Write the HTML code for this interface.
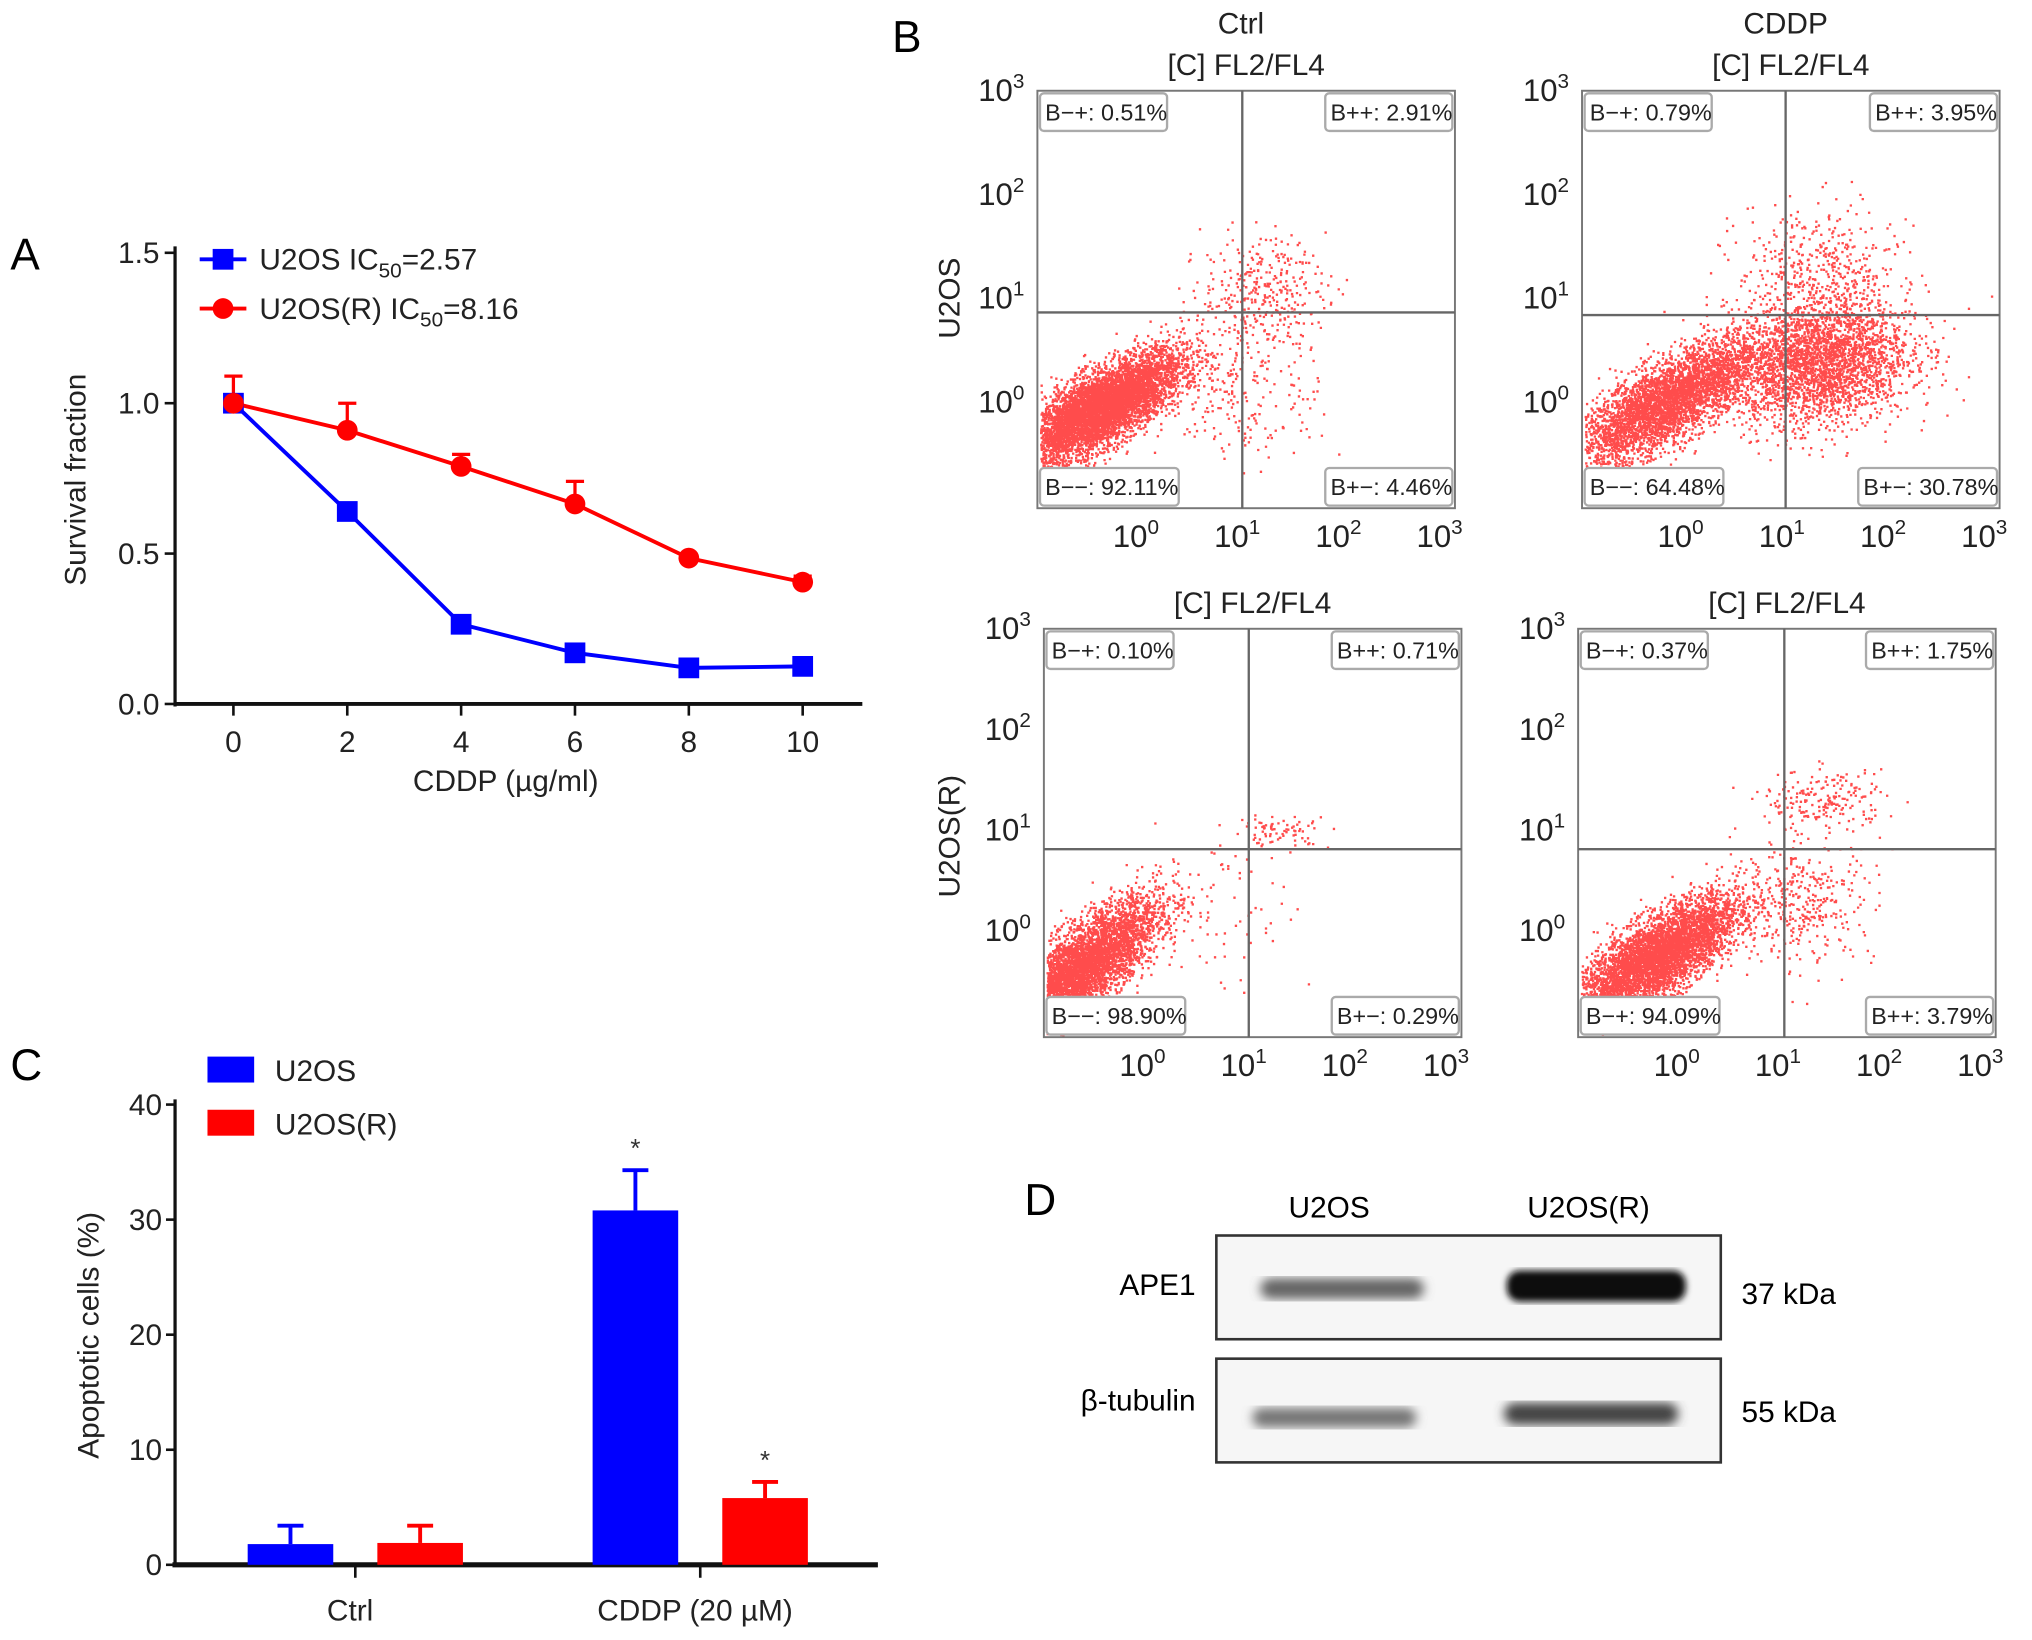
<!DOCTYPE html>
<html><head><meta charset="utf-8"><style>
html,body{margin:0;padding:0;background:#fff;}
svg{display:block;font-family:"Liberation Sans",sans-serif;}
</style></head><body>
<svg id="fig" width="2032" height="1640" viewBox="0 0 1567 1265" preserveAspectRatio="none" xmlns="http://www.w3.org/2000/svg">
<defs>
<filter id="blur3"><feGaussianBlur stdDeviation="4"/></filter>
<filter id="blur2"><feGaussianBlur stdDeviation="2.5"/></filter>
</defs>
<g id="panelA"></g>
<g id="panelB"></g>
<g id="panelC"></g>
<g id="panelD">
<text x="790" y="937" font-size="34">D</text>
<text x="1025" y="939" font-size="23" text-anchor="middle">U2OS</text>
<text x="1225" y="939" font-size="23" text-anchor="middle">U2OS(R)</text>
<rect x="938" y="953" width="389" height="80" fill="#f6f6f6" stroke="#333" stroke-width="2"/>
<rect x="938" y="1048" width="389" height="80" fill="#f6f6f6" stroke="#333" stroke-width="2"/>
<rect x="972" y="986" width="126" height="16" rx="8" fill="#666" filter="url(#blur3)"/>
<rect x="1162" y="980" width="138" height="24" rx="10" fill="#0a0a0a" filter="url(#blur2)"/>
<rect x="966" y="1086" width="126" height="15" rx="7" fill="#777" filter="url(#blur3)"/>
<rect x="1160" y="1082" width="134" height="17" rx="8" fill="#444" filter="url(#blur3)"/>
<text x="922" y="999" font-size="23" text-anchor="end">APE1</text>
<text x="922" y="1088" font-size="23" text-anchor="end">β-tubulin</text>
<text x="1343" y="1006" font-size="23">37 kDa</text>
<text x="1343" y="1097" font-size="23">55 kDa</text>
</g>
</svg>
<script>
// ---- Panel A data ----
const doses = [0, 2, 4, 6, 8, 10];
const u2osSurvival = [1.0, 0.64, 0.265, 0.17, 0.12, 0.125];
const u2osRSurvival = [1.0, 0.91, 0.79, 0.665, 0.485, 0.405];
const u2osRError = [0.09, 0.09, 0.04, 0.075, 0.0, 0.02];
const survivalTicks = [0.0, 0.5, 1.0, 1.5];
const survivalTickLabels = ["0.0", "0.5", "1.0", "1.5"];
// ---- Panel C data ----
const groups = ["Ctrl", "CDDP (20 µM)"];
const apopU2OS = [1.8, 30.8];
const apopU2OSErr = [1.6, 3.5];
const apopU2OSR = [1.9, 5.8];
const apopU2OSRErr = [1.5, 1.4];
const apopTicks = [0, 10, 20, 30, 40];
// ---- Panel B data ----
const plotTitles = [["Ctrl","[C] FL2/FL4"],["CDDP","[C] FL2/FL4"],["","[C] FL2/FL4"],["","[C] FL2/FL4"]];
const quadLabels = [
 ["B−+: 0.51%","B++: 2.91%","B−−: 92.11%","B+−: 4.46%"],
 ["B−+: 0.79%","B++: 3.95%","B−−: 64.48%","B+−: 30.78%"],
 ["B−+: 0.10%","B++: 0.71%","B−−: 98.90%","B+−: 0.29%"],
 ["B−+: 0.37%","B++: 1.75%","B−+: 94.09%","B++: 3.79%"]];
// clusters per plot: [log10 x center, log10 y center, sdx, sdy, count, slope]
const clusters = [
 [[-0.4,-0.05,0.4,0.18,6000,0.5],[1.2,1.1,0.3,0.25,300,0],[1.0,0.2,0.4,0.4,250,0]],
 [[-0.2,0.0,0.45,0.2,4000,0.5],[1.3,0.4,0.45,0.3,3000,0.1],[1.3,1.3,0.4,0.3,400,0]],
 [[-0.7,-0.4,0.4,0.22,6000,0.7],[1.3,1.0,0.25,0.08,80,0],[0.8,0.2,0.4,0.4,60,0]],
 [[-0.25,-0.25,0.4,0.2,5000,0.55],[1.2,0.3,0.35,0.3,350,0],[1.4,1.3,0.3,0.15,200,0]]];
const NS="http://www.w3.org/2000/svg";
function mk(parent,tag,attrs,text){const e=document.createElementNS(NS,tag);for(const k in attrs)e.setAttribute(k,attrs[k]);if(text!==undefined)e.textContent=text;parent.appendChild(e);return e;}

// ===== Panel A =====
(function(){
 const g=document.getElementById('panelA');
 const xA=d=>180+(d/10)*439, yA=v=>543-v*232;
 let t=mk(g,'text',{x:8,y:208,'font-size':34});t.textContent='A';
 
 
 let ax=mk(g,'line',{x1:135,y1:190,x2:135,y2:545,stroke:'#111','stroke-width':2.5});
 
 
 ax=mk(g,'line',{x1:134,y1:543,x2:665,y2:543,stroke:'#111','stroke-width':3});
 
 
 survivalTicks.forEach((v,i)=>{
  mk(g,'line',{x1:127,y1:yA(v),x2:135,y2:yA(v),stroke:'#111','stroke-width':2});
  const l=mk(g,'text',{x:123,y:yA(v)+8,'font-size':23,'text-anchor':'end',fill:'#222'},survivalTickLabels[i]);
  
  
 });
 doses.forEach(d=>{
  mk(g,'line',{x1:xA(d),y1:543,x2:xA(d),y2:552,stroke:'#111','stroke-width':2});
  const l=mk(g,'text',{x:xA(d),y:580,'font-size':23,'text-anchor':'middle',fill:'#222'},String(d));
  
  
 });
 let tt=mk(g,'text',{x:390,y:610,'font-size':23,'text-anchor':'middle',fill:'#222'},'CDDP (µg/ml)');
 
 
 tt=mk(g,'text',{x:0,y:0,'font-size':23,'text-anchor':'middle',fill:'#222',transform:'translate(66,370) rotate(-90)'},'Survival fraction');
 
 
 u2osRSurvival.forEach((v,i)=>{
  if(u2osRError[i]>0){
   mk(g,'line',{x1:xA(doses[i]),y1:yA(v),x2:xA(doses[i]),y2:yA(v+u2osRError[i]),stroke:'#f00','stroke-width':2.5});
   mk(g,'line',{x1:xA(doses[i])-7,y1:yA(v+u2osRError[i]),x2:xA(doses[i])+7,y2:yA(v+u2osRError[i]),stroke:'#f00','stroke-width':2.5});
  }
 });
 let p=mk(g,'polyline',{points:u2osSurvival.map((v,i)=>xA(doses[i])+','+yA(v)).join(' '),fill:'none',stroke:'#00f','stroke-width':3});
 
 
 p=mk(g,'polyline',{points:u2osRSurvival.map((v,i)=>xA(doses[i])+','+yA(v)).join(' '),fill:'none',stroke:'#f00','stroke-width':3});
 
 
 u2osSurvival.forEach((v,i)=>{
  const m=mk(g,'rect',{x:xA(doses[i])-8,y:yA(v)-8,width:16,height:16,fill:'#00f'});
  
  
 });
 u2osRSurvival.forEach((v,i)=>{
  const m=mk(g,'circle',{cx:xA(doses[i]),cy:yA(v),r:8,fill:'#f00'});
  
  
 });
 mk(g,'line',{x1:154,y1:200,x2:190,y2:200,stroke:'#00f','stroke-width':3});
 mk(g,'rect',{x:164,y:192,width:16,height:16,fill:'#00f'});
 let le=mk(g,'text',{x:200,y:208,'font-size':23,fill:'#222'});
 le.innerHTML='U2OS IC<tspan font-size="16" dy="6">50</tspan><tspan dy="-6">=2.57</tspan>';
 
 
 mk(g,'line',{x1:154,y1:238,x2:190,y2:238,stroke:'#f00','stroke-width':3});
 mk(g,'circle',{cx:172,cy:238,r:8,fill:'#f00'});
 le=mk(g,'text',{x:200,y:246,'font-size':23,fill:'#222'});
 le.innerHTML='U2OS(R) IC<tspan font-size="16" dy="6">50</tspan><tspan dy="-6">=8.16</tspan>';
 
 
})();

// ===== Panel C =====
(function(){
 const g=document.getElementById('panelC');
 const yC=v=>1207-v*8.875;
 const groupCenter=[274,540];
 let t=mk(g,'text',{x:8,y:833,'font-size':34},'C');
 
 
 let ax=mk(g,'line',{x1:135,y1:848,x2:135,y2:1208,stroke:'#111','stroke-width':2.5});
 
 
 ax=mk(g,'line',{x1:133,y1:1207,x2:677,y2:1207,stroke:'#111','stroke-width':4});
 
 
 apopTicks.forEach(v=>{
  mk(g,'line',{x1:128,y1:yC(v),x2:135,y2:yC(v),stroke:'#111','stroke-width':2});
  const l=mk(g,'text',{x:125,y:yC(v)+8,'font-size':23,'text-anchor':'end',fill:'#222'},String(v));
  
  
 });
 let tt=mk(g,'text',{x:0,y:0,'font-size':23,'text-anchor':'middle',fill:'#222',transform:'translate(76,1030) rotate(-90)'},'Apoptotic cells (%)');
 
 
 function bar(cx,v,e,color,name,star){
  const w=66;
  mk(g,'line',{x1:cx,y1:yC(v),x2:cx,y2:yC(v+e),stroke:color,'stroke-width':3});
  mk(g,'line',{x1:cx-10,y1:yC(v+e),x2:cx+10,y2:yC(v+e),stroke:color,'stroke-width':3});
  const b=mk(g,'rect',{x:cx-w/2,y:yC(v),width:w,height:yC(0)-yC(v),fill:color});
  
  
  if(star){const s=mk(g,'text',{x:cx,y:yC(v+e)-10,'font-size':20,'text-anchor':'middle',fill:'#333'},'*');
   
   }
 }
 groups.forEach((gname,i)=>{
  bar(groupCenter[i]-50,apopU2OS[i],apopU2OSErr[i],'#00f','bar-u2os-'+i,i===1);
  bar(groupCenter[i]+50,apopU2OSR[i],apopU2OSRErr[i],'#f00','bar-u2os-r-'+i,i===1);
  mk(g,'line',{x1:groupCenter[i],y1:1207,x2:groupCenter[i],y2:1217,stroke:'#111','stroke-width':2});
  const l=mk(g,'text',{x:groupCenter[i]-4,y:1250,'font-size':23,'text-anchor':'middle',fill:'#222'},gname);
  
  
 });
 mk(g,'rect',{x:160,y:815,width:36,height:20,fill:'#00f'});
 let le=mk(g,'text',{x:212,y:834,'font-size':23,fill:'#222'},'U2OS');
 
 
 mk(g,'rect',{x:160,y:856,width:36,height:20,fill:'#f00'});
 le=mk(g,'text',{x:212,y:875,'font-size':23,fill:'#222'},'U2OS(R)');
 
 
})();

// ===== Panel B =====
(function(){
 const g=document.getElementById('panelB');
 let t=mk(g,'text',{x:688,y:40,'font-size':34},'B');
 
 
 const frames=[[800,70,1122,392,958,241],[1220,70,1542,392,1377,243],[805,485,1127,800,963,655],[1217,485,1539,800,1376,655]];
 let seed=12345;const rnd=()=>{seed=(seed*1103515245+12345)%2147483648;return seed/2147483648;};
 const gauss=()=>{let u=rnd()||1e-6,v=rnd();return Math.sqrt(-2*Math.log(u))*Math.cos(2*Math.PI*v);};
 frames.forEach((f,pi)=>{
  const [x0,y0,x1,y1,qx,qy]=f;
  const pg=mk(g,'g',{});
  
  
  const dec=(x1-x0-80)/3.1;
  const sx=l=>x0+80+l*dec, sy=l=>y1-82-l*(y1-y0-82)/3;
  let d='';
  clusters[pi].forEach(c=>{
   const [cx,cy,sdx,sdy,n,slope]=c;
   for(let k=0;k<n;k++){
    const a=gauss()*sdx,b=gauss()*sdy;
    const X=sx(cx+a),Y=sy(cy+a*slope+b);
    if(X<x0+2||X>x1-2||Y<y0+2||Y>y1-2)continue;
    d+='M'+X.toFixed(1)+' '+Y.toFixed(1)+'h1.8v1.8h-1.8z';
   }
  });
  const dots=mk(pg,'path',{d:d,fill:'#f00','fill-opacity':0.7});
  
  
  mk(pg,'rect',{x:x0,y:y0,width:x1-x0,height:y1-y0,fill:'none',stroke:'#777','stroke-width':1.5});
  mk(pg,'line',{x1:qx,y1:y0,x2:qx,y2:y1,stroke:'#666','stroke-width':1.8});
  mk(pg,'line',{x1:x0,y1:qy,x2:x1,y2:qy,stroke:'#666','stroke-width':1.8});
  const ql=quadLabels[pi];
  const pos=[[x0+2,y0+2,'start'],[x1-2,y0+2,'end'],[x0+2,y1-31,'start'],[x1-2,y1-31,'end']];
  pos.forEach((p,qi)=>{
   const w=ql[qi].length*9+8;
   const bx=p[2]==='start'?p[0]:p[0]-w;
   mk(pg,'rect',{x:bx,y:p[1],width:w,height:29,rx:3,fill:'#fff',stroke:'#aaa','stroke-width':1.8});
   const l=mk(pg,'text',{x:bx+4,y:p[1]+21,'font-size':18,fill:'#222'},ql[qi]);
   
   
  });
  for(let k=0;k<=3;k++){
   const l=mk(pg,'text',{x:sx(k)-4,y:y1+30,'font-size':24,'text-anchor':'middle',fill:'#222'});
   l.innerHTML='10<tspan font-size="16" dy="-10">'+k+'</tspan>';
   
   
   const m=mk(pg,'text',{x:x0-10,y:sy(k)+8,'font-size':24,'text-anchor':'end',fill:'#222'});
   m.innerHTML='10<tspan font-size="16" dy="-10">'+k+'</tspan>';
   
   
  }
  const cxm=(x0+x1)/2;
  if(plotTitles[pi][0]){const a=mk(pg,'text',{x:cxm-4,y:y0-44,'font-size':23,'text-anchor':'middle',fill:'#222'},plotTitles[pi][0]);
   
   }
  const b=mk(pg,'text',{x:cxm,y:y0-12,'font-size':23,'text-anchor':'middle',fill:'#222'},plotTitles[pi][1]);
  
  
 });
 let r=mk(g,'text',{x:0,y:0,'font-size':23,'text-anchor':'middle',fill:'#222',transform:'translate(740,230) rotate(-90)'},'U2OS');
 
 
 r=mk(g,'text',{x:0,y:0,'font-size':23,'text-anchor':'middle',fill:'#222',transform:'translate(740,645) rotate(-90)'},'U2OS(R)');
 
 
})();
</script>
</body></html>
